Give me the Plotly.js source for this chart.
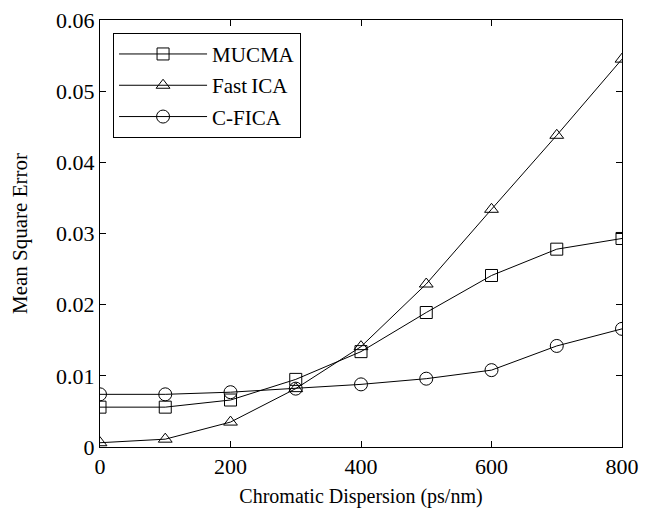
<!DOCTYPE html>
<html>
<head>
<meta charset="utf-8">
<script src="https://cdn.plot.ly/plotly-3.0.1.min.js"></script>
<style>html,body{margin:0;padding:0;background:#fff;}#chart{width:655px;height:515px;}</style>
</head>
<body>
<div id="chart"></div>
<script>
const dispersion = [0, 100, 200, 300, 400, 500, 600, 700, 800];
const mucma   = [0.0056, 0.0056, 0.0066, 0.0095, 0.0134, 0.0189, 0.0241, 0.0278, 0.0293];
const fastica = [0.0006, 0.0011, 0.0035, 0.0082, 0.0141, 0.0229, 0.0334, 0.0438, 0.0545];
const cfica   = [0.0074, 0.0074, 0.0077, 0.0082, 0.0088, 0.0096, 0.0108, 0.0142, 0.0166];
const seriesNames = ['MUCMA', 'Fast\u2009ICA', 'C-FICA'];
const xTickVals = [0, 200, 400, 600, 800];
const yTickVals = [0, 0.01, 0.02, 0.03, 0.04, 0.05, 0.06];
const yTickText = ['0', '0.01', '0.02', '0.03', '0.04', '0.05', '0.06'];

const font = 'Liberation Serif';
const mk = (sym, sz) => ({symbol: sym, size: sz, color: '#000', line: {color: '#000', width: 1}});
const traces = [
  {x: dispersion, y: mucma, name: seriesNames[0], legendgroup: 'a', mode: 'lines+markers', line: {color: '#000', width: 1}, marker: mk('square-open', 12)},
  {x: dispersion, y: fastica, name: seriesNames[1], legendgroup: 'b', mode: 'lines+markers', line: {color: '#000', width: 1}, marker: mk('triangle-up-open', 12)},
  {x: dispersion, y: cfica, name: seriesNames[2], legendgroup: 'c', mode: 'lines+markers', line: {color: '#000', width: 1}, marker: mk('circle-open', 13)}
];
const axisCommon = {
  showline: true, linecolor: '#000', linewidth: 1, mirror: 'ticks',
  ticks: 'inside', ticklen: 6, tickcolor: '#000', showgrid: false, zeroline: false,
  tickfont: {family: font, size: 22, color: '#000'}
};
const layout = {
  width: 655, height: 515,
  margin: {l: 100, r: 33, t: 20, b: 68},
  paper_bgcolor: '#fff', plot_bgcolor: '#fff',
  font: {family: font, color: '#000'},
  xaxis: Object.assign({}, axisCommon, {
    range: [0, 800], tickvals: xTickVals, ticktext: xTickVals.map(String),
    title: {text: 'Chromatic Dispersion (ps/nm)', font: {family: font, size: 20, color: '#000'}, standoff: 10}
  }),
  yaxis: Object.assign({}, axisCommon, {
    range: [0, 0.06], tickvals: yTickVals, ticktext: yTickText,
    title: {text: 'Mean Square Error', font: {family: font, size: 21, color: '#000'}, standoff: 22}
  }),
  showlegend: true,
  legend: {
    x: 0.025, y: 0.97, xanchor: 'left', yanchor: 'top',
    bgcolor: '#fff', bordercolor: '#000', borderwidth: 1,
    font: {family: font, size: 21, color: '#000'},
    itemwidth: 88, traceorder: 'grouped', tracegroupgap: 1
  }
};
Plotly.newPlot('chart', traces, layout, {displayModeBar: false, staticPlot: true});
</script>
</body>
</html>
